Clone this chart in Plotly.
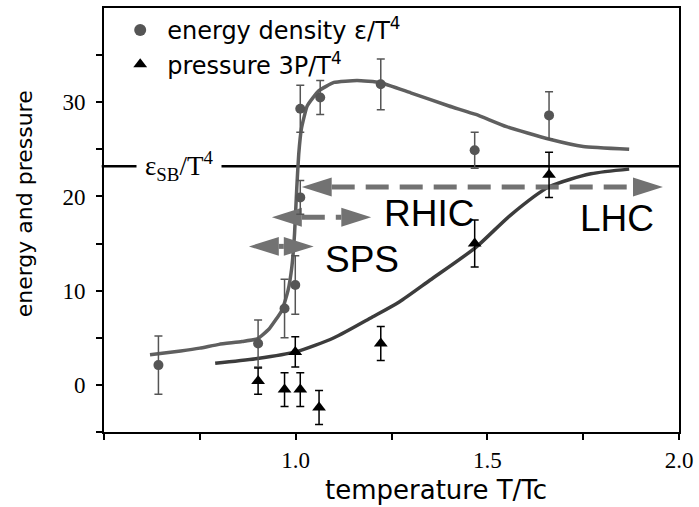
import plotly.graph_objects as go

# ---------------- data ----------------
energy_T   = [0.642, 0.902, 0.971, 0.999, 1.012, 1.012, 1.064, 1.222, 1.467, 1.661]
energy_val = [2.1,   4.4,   8.1,   10.6,  19.9,  29.3,  30.5,  31.9,  24.9,  28.6]
energy_err = [3.1,   2.5,   3.1,   3.1,   1.8,   2.5,   1.8,   2.7,   1.9,   2.5]

pressure_T   = [0.902, 0.971, 0.999, 1.012, 1.061, 1.222, 1.467, 1.661]
pressure_val = [0.4,  -0.5,   3.5,  -0.5,  -2.4,   4.4,   15.0,  22.3]
pressure_err = [1.4,   1.8,   1.6,   1.8,   1.8,   1.8,   2.5,   2.4]

energy_curve_T   = [0.62, 0.70, 0.75, 0.80, 0.86, 0.90, 0.93, 0.964, 0.98, 0.99, 0.997,
                    1.003, 1.008, 1.015, 1.03, 1.06, 1.10, 1.16, 1.22, 1.30, 1.40, 1.47,
                    1.55, 1.66, 1.75, 1.87]
energy_curve_val = [3.2, 3.6, 3.9, 4.3, 4.6, 4.9, 5.9, 7.9, 10.0, 12.5, 16.0,
                    21.0, 24.5, 27.2, 29.6, 31.2, 32.1, 32.3, 32.1, 31.0, 29.6, 28.7,
                    27.4, 26.1, 25.3, 25.0]

pressure_curve_T   = [0.79, 0.90, 1.00, 1.10, 1.20, 1.27, 1.35, 1.47, 1.56, 1.66, 1.77, 1.87]
pressure_curve_val = [2.3, 2.8, 3.5, 5.0, 7.2, 8.8, 11.1, 14.6, 18.0, 21.0, 22.4, 22.9]

eps_SB = 23.2

arrow_labels = ["LHC", "RHIC", "SPS"]
arrow_left   = [1.016, 0.938, 0.878]
arrow_right  = [1.958, 1.197, 1.047]
arrow_level  = [21.0, 17.8, 14.7]

x_tick_vals = [1.0, 1.5, 2.0]
x_tick_text = ["1.0", "1.5", "2.0"]
y_tick_vals = [0, 10, 20, 30]
y_tick_text = ["0", "10", "20", "30"]

# ---------------- figure geometry ----------------
W, H = 699, 507
ML, MR, MT, MB = 104, 18, 6, 75
PW, PH = W - ML - MR, H - MT - MB
XR = [0.5, 2.0]
YR = [-5, 40]
xs = PW / (XR[1] - XR[0])   # px per unit
ys = PH / (YR[1] - YR[0])


def px_to_paper_x(px):
    return (px - ML) / PW


def px_to_paper_y(py):
    return (H - MB - py) / PH


GRAY_ARROW = "#727272"

fig = go.Figure()

# Stefan-Boltzmann limit line (label sits on top of it)
fig.add_shape(type="line", xref="paper", x0=-0.004, x1=1, yref="y", y0=eps_SB, y1=eps_SB,
              line=dict(color="black", width=2.5), layer="below")

# curves
fig.add_trace(go.Scatter(x=energy_curve_T, y=energy_curve_val, mode="lines",
                         line=dict(color="#5f5f5f", width=3.5, shape="spline", smoothing=0.4),
                         showlegend=False, hoverinfo="skip"))
fig.add_trace(go.Scatter(x=pressure_curve_T, y=pressure_curve_val, mode="lines",
                         line=dict(color="#3c3c3c", width=3.5, shape="spline", smoothing=0.7),
                         showlegend=False, hoverinfo="skip"))

# arrows
L_px, h_px = 30, 9.5
dxh = L_px / xs
dyh = h_px / ys
for xl, xr, yv in zip(arrow_left, arrow_right, arrow_level):
    fig.add_trace(go.Scatter(x=[xl + dxh, xr - dxh], y=[yv, yv], mode="lines",
                             line=dict(color=GRAY_ARROW, width=5, dash="23px,11px"),
                             showlegend=False, hoverinfo="skip"))
    fig.add_trace(go.Scatter(x=[xl, xl + dxh, xl + dxh, xl], y=[yv, yv + dyh, yv - dyh, yv],
                             mode="lines", fill="toself", fillcolor=GRAY_ARROW,
                             line=dict(width=0, color=GRAY_ARROW),
                             showlegend=False, hoverinfo="skip"))
    fig.add_trace(go.Scatter(x=[xr, xr - dxh, xr - dxh, xr], y=[yv, yv + dyh, yv - dyh, yv],
                             mode="lines", fill="toself", fillcolor=GRAY_ARROW,
                             line=dict(width=0, color=GRAY_ARROW),
                             showlegend=False, hoverinfo="skip"))

# data points
fig.add_trace(go.Scatter(x=energy_T, y=energy_val, mode="markers",
                         name="energy density ε/T<sup>4</sup>",
                         marker=dict(symbol="circle", size=10, color="#555555"),
                         error_y=dict(type="data", array=energy_err, color="#555555",
                                      thickness=1.5, width=4)))
fig.add_trace(go.Scatter(x=pressure_T, y=pressure_val, mode="markers",
                         name="pressure 3P/T<sup>4</sup>",
                         marker=dict(symbol="triangle-up", size=12, color="black"),
                         error_y=dict(type="data", array=pressure_err, color="black",
                                      thickness=1.5, width=4)))

# SB label on the line (white box interrupts the line behind it)
fig.add_annotation(x=XR[0] + 118 / xs, y=eps_SB, xanchor="right", yanchor="middle",
                   text="ε<sub>SB</sub>/T<sup>4</sup>", showarrow=False,
                   bgcolor="white", borderpad=8,
                   font=dict(family="Liberation Serif", size=27, color="black"))

# collider labels
label_font = dict(family="Liberation Sans", size=37, color="black")
fig.add_annotation(x=1.837, y=17.7, text=arrow_labels[0], showarrow=False,
                   xanchor="center", yanchor="middle", font=label_font)
fig.add_annotation(x=1.225, y=18.2, text=arrow_labels[1], showarrow=False,
                   xanchor="left", yanchor="middle", font=label_font)
fig.add_annotation(x=1.07, y=13.3, text=arrow_labels[2], showarrow=False,
                   xanchor="left", yanchor="middle", font=label_font)

# axis titles (placed as in the reference, off-centre)
fig.add_annotation(xref="paper", yref="paper", x=px_to_paper_x(437), y=px_to_paper_y(490),
                   xanchor="center", yanchor="middle", showarrow=False,
                   text="temperature T/Tc",
                   font=dict(family="DejaVu Sans", size=26, color="black"))
fig.add_annotation(xref="paper", yref="paper", x=px_to_paper_x(24), y=px_to_paper_y(203),
                   xanchor="center", yanchor="middle", showarrow=False, textangle=-90,
                   text="energy and pressure",
                   font=dict(family="DejaVu Sans", size=22, color="black"))

axis_common = dict(showline=True, linewidth=2, linecolor="black", mirror=True,
                   ticks="outside", ticklen=6, tickwidth=2, tickcolor="black",
                   showgrid=False, zeroline=False,
                   tickfont=dict(family="Liberation Serif", size=23, color="black"))

fig.update_layout(
    width=W, height=H,
    margin=dict(l=ML, r=MR, t=MT, b=MB),
    paper_bgcolor="white", plot_bgcolor="white",
    xaxis=dict(range=XR, tickmode="array", tickvals=x_tick_vals, ticktext=x_tick_text,
               minor=dict(tickvals=[0.5, 0.75, 1.25, 1.75], ticks="outside", ticklen=6,
                          tickwidth=2, tickcolor="black"),
               **axis_common),
    yaxis=dict(range=YR, tickmode="array", tickvals=y_tick_vals, ticktext=y_tick_text,
               minor=dict(tickvals=[-5, 5, 15, 25, 35], ticks="outside", ticklen=6,
                          tickwidth=2, tickcolor="black"),
               ticklabelstandoff=6,
               **axis_common),
    legend=dict(x=0.016, y=1.0, xanchor="left", yanchor="top", bgcolor="rgba(0,0,0,0)",
                font=dict(family="DejaVu Sans", size=24, color="black"),
                tracegroupgap=0, itemsizing="constant", itemwidth=44),
    showlegend=True,
)

fig.write_html("out.html", config={"displayModeBar": False},
               post_script="document.body.style.margin='0';document.body.style.padding='0';")
